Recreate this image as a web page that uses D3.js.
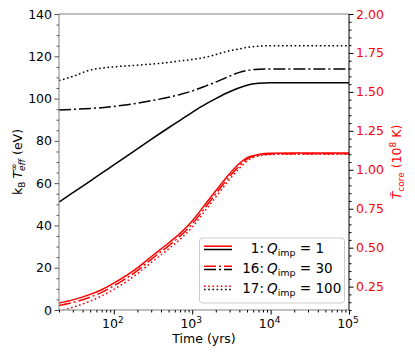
<!DOCTYPE html>
<html>
<head>
<meta charset="utf-8">
<script src="https://cdn.jsdelivr.net/npm/d3@7"></script>
<style>
  body { margin: 0; background: #fff; }
  text { font-family: "DejaVu Sans", sans-serif; }
</style>
</head>
<body>
<svg></svg>
<script>
// Data
const times = [20, 30, 50, 70, 100, 200, 300, 500, 700, 1000, 1500, 2000, 3000, 4000, 5000, 7000, 10000, 20000, 50000, 100000];

// effective temperature (eV), left axis
const teffQ1   = [51.0, 55.5, 61.0, 64.7, 68.6, 76.2, 80.7, 86.2, 89.7, 93.5, 97.5, 100.0, 103.2, 105.1, 106.3, 107.2, 107.5, 107.5, 107.5, 107.5];
const teffQ30  = [94.6, 94.9, 95.3, 95.7, 96.3, 97.8, 99.0, 100.6, 101.9, 103.6, 106.0, 107.8, 110.6, 112.4, 113.3, 113.9, 114.0, 114.0, 114.0, 114.0];
const teffQ100 = [108.5, 110.5, 113.5, 114.4, 115.0, 115.8, 116.3, 117.1, 117.8, 118.5, 119.6, 120.8, 122.6, 123.5, 124.2, 124.8, 125.0, 125.0, 125.0, 125.0];

// core temperature (1e8 K), right axis
const tcoreQ1   = [0.145, 0.165, 0.200, 0.230, 0.272, 0.370, 0.442, 0.530, 0.592, 0.672, 0.785, 0.865, 0.975, 1.040, 1.078, 1.098, 1.106, 1.107, 1.107, 1.107];
const tcoreQ30  = [0.128, 0.148, 0.183, 0.213, 0.255, 0.353, 0.425, 0.512, 0.574, 0.652, 0.765, 0.845, 0.957, 1.025, 1.068, 1.093, 1.102, 1.103, 1.103, 1.103];
const tcoreQ100 = [0.092, 0.118, 0.157, 0.190, 0.232, 0.333, 0.405, 0.492, 0.553, 0.632, 0.745, 0.825, 0.938, 1.010, 1.056, 1.088, 1.098, 1.100, 1.100, 1.100];

const leftTicks = [0, 20, 40, 60, 80, 100, 120, 140];
const rightTicks = [0.25, 0.5, 0.75, 1.0, 1.25, 1.5, 1.75, 2.0];
const xTicks = [100, 1000, 10000, 100000];
const legendLabels = [["1:", "1"], ["16:", "30"], ["17:", "100"]];

const width = 415, height = 356;
const svg = d3.select('svg').attr('width', width).attr('height', height);

const x0 = 59, x1 = 349, yTop = 14, yBot = 310;
const x = d3.scaleLog().domain([20, 1e5]).range([x0, x1]);
const yL = d3.scaleLinear().domain([0, 140]).range([yBot, yTop]);
const yR = d3.scaleLinear().domain([0.1, 2.0]).range([yBot, yTop]);

svg.append('defs').append('clipPath').attr('id', 'clip')
  .append('rect').attr('x', x0).attr('y', yTop).attr('width', x1 - x0).attr('height', yBot - yTop);

const styles = [
  { dash: null },
  { dash: '12,3,2,3' },
  { dash: '1.6,2.6' }
];

const plot = svg.append('g').attr('clip-path', 'url(#clip)');

const lineL = d3.line().x((d, i) => x(times[i])).y(d => yL(d)).curve(d3.curveMonotoneX);
const lineR = d3.line().x((d, i) => x(times[i])).y(d => yR(d)).curve(d3.curveMonotoneX);

[teffQ1, teffQ30, teffQ100].forEach((s, i) => {
  plot.append('path').attr('d', lineL(s))
    .attr('fill', 'none').attr('stroke', 'black').attr('stroke-width', 1.5)
    .attr('stroke-dasharray', styles[i].dash);
});
[tcoreQ1, tcoreQ30, tcoreQ100].forEach((s, i) => {
  plot.append('path').attr('d', lineR(s))
    .attr('fill', 'none').attr('stroke', 'red').attr('stroke-width', 1.5)
    .attr('stroke-dasharray', styles[i].dash);
});

// spines
svg.append('line').attr('x1', x0).attr('x2', x1).attr('y1', yTop).attr('y2', yTop).attr('stroke', '#808080');
svg.append('line').attr('x1', x0).attr('x2', x0).attr('y1', yTop).attr('y2', yBot).attr('stroke', '#808080');
svg.append('line').attr('x1', x0).attr('x2', x1).attr('y1', yBot).attr('y2', yBot).attr('stroke', '#808080');
svg.append('line').attr('x1', x1).attr('x2', x1).attr('y1', yTop).attr('y2', yBot).attr('stroke', 'black');

// left axis
const leftMinor = d3.range(0, 141, 5).filter(v => v % 20 !== 0);
const gl = svg.append('g').attr('transform', `translate(${x0},0)`);
gl.call(d3.axisLeft(yL).tickValues(leftTicks).tickSize(4.5).tickPadding(2.5));
gl.append('g').call(d3.axisLeft(yL).tickValues(leftMinor).tickSize(2.5).tickFormat(''));
gl.selectAll('.domain').remove();
gl.selectAll('line').attr('stroke', '#555');
gl.selectAll('text').attr('font-size', 12.5).attr('fill', 'black').style('font-family', 'DejaVu Sans');

// right axis
const rightMinor = d3.range(2, 41).map(v => v * 0.05).filter(v => Math.abs(v / 0.25 - Math.round(v / 0.25)) > 1e-6);
const gr = svg.append('g').attr('transform', `translate(${x1},0)`);
gr.call(d3.axisRight(yR).tickValues(rightTicks).tickSize(4.5).tickPadding(2.5).tickFormat(d3.format('.2f')));
gr.append('g').call(d3.axisRight(yR).tickValues(rightMinor).tickSize(2.5).tickFormat(''));
gr.selectAll('.domain').remove();
gr.selectAll('line').attr('stroke', 'black');
gr.selectAll('text').attr('font-size', 12.5).attr('fill', 'red').style('font-family', 'DejaVu Sans');

// bottom axis
const xMinor = [];
[10, 100, 1000, 10000].forEach(b => { for (let k = 2; k <= 9; k++) if (b * k >= 20) xMinor.push(b * k); });
const gb = svg.append('g').attr('transform', `translate(0,${yBot})`);
gb.call(d3.axisBottom(x).tickValues(xTicks).tickSize(4.5).tickFormat(''));
gb.append('g').call(d3.axisBottom(x).tickValues(xMinor).tickSize(2.5).tickFormat(''));
gb.selectAll('.domain').remove();
gb.selectAll('line').attr('stroke', 'black');
xTicks.forEach(t => {
  const tx = gb.append('text').attr('x', x(t) - 1).attr('y', 17.5)
    .attr('text-anchor', 'middle').attr('font-size', 12.5).attr('fill', 'black');
  tx.append('tspan').text('10');
  tx.append('tspan').attr('dy', -5).attr('font-size', 9).text(Math.round(Math.log10(t)));
});

// axis labels
svg.append('text').attr('x', (x0 + x1) / 2).attr('y', 343)
  .attr('text-anchor', 'middle').attr('font-size', 12.5).text('Time (yrs)');

const ll = svg.append('text').attr('transform', 'translate(22,162) rotate(-90)')
  .attr('text-anchor', 'middle').attr('font-size', 12.5);
ll.append('tspan').text('k');
ll.append('tspan').attr('font-size', 9).attr('dy', 3).text('B');
ll.append('tspan').attr('font-style', 'italic').attr('dy', -3).attr('dx', 3).text('T');
ll.append('tspan').attr('font-size', 9).attr('dy', -5).text('\u221e');
ll.append('tspan').attr('font-size', 9).attr('font-style', 'italic').attr('dx', -7.5).attr('dy', 8).text('eff');
ll.append('tspan').attr('dy', -3).text(' (eV)');

const rl = svg.append('text').attr('transform', 'translate(401,162) rotate(-90)')
  .attr('text-anchor', 'middle').attr('font-size', 12.5).attr('fill', 'red');
rl.append('tspan').attr('font-style', 'italic').text('T\u0303');
rl.append('tspan').attr('font-size', 9).attr('dy', 3).text('core');
rl.append('tspan').attr('dy', -3).text(' (10');
rl.append('tspan').attr('font-size', 9).attr('dy', -5).text('8');
rl.append('tspan').attr('dy', 5).text(' K)');

// legend
const lg = svg.append('g');
lg.append('rect').attr('x', 199.5).attr('y', 238).attr('width', 145).attr('height', 65)
  .attr('rx', 3).attr('fill', 'white').attr('fill-opacity', 0.8).attr('stroke', '#cccccc');
legendLabels.forEach(([num, q], i) => {
  const cy = 248 + i * 20;
  lg.append('line').attr('x1', 204).attr('x2', 232).attr('y1', cy - 1.8).attr('y2', cy - 1.8)
    .attr('stroke', 'red').attr('stroke-width', 1.5).attr('stroke-dasharray', styles[i].dash);
  lg.append('line').attr('x1', 204).attr('x2', 232).attr('y1', cy + 1.5).attr('y2', cy + 1.5)
    .attr('stroke', 'black').attr('stroke-width', 1.5).attr('stroke-dasharray', styles[i].dash);
  lg.append('text').attr('x', 264).attr('y', cy + 4.5).attr('text-anchor', 'end')
    .attr('font-size', 13.5).text(num);
  const t = lg.append('text').attr('x', 267).attr('y', cy + 4.5).attr('font-size', 13.5);
  t.append('tspan').attr('font-style', 'italic').text('Q');
  t.append('tspan').attr('font-size', 9.5).attr('dy', 3).text('imp');
  t.append('tspan').attr('dy', -3).text(' = ' + q);
});
</script>
</body>
</html>
